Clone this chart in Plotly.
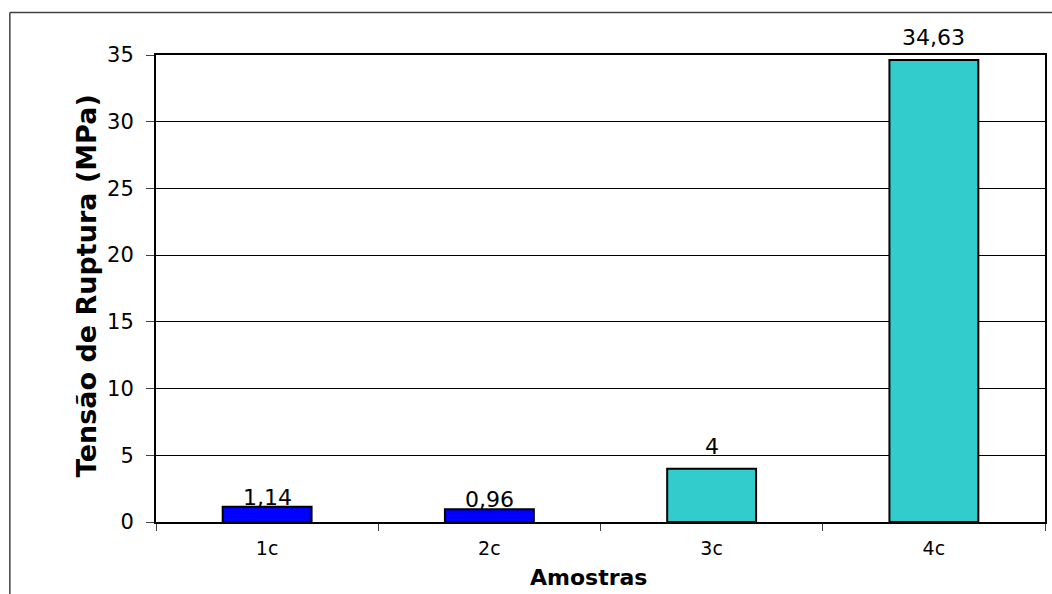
import plotly.graph_objects as go

categories = ["1c", "2c", "3c", "4c"]
values = [1.14, 0.96, 4, 34.63]
colors = ["#0000FF", "#0000FF", "#33CCCC", "#33CCCC"]
label_shift = [-5, -5, 8, 8]
y_ticks = [0, 5, 10, 15, 20, 25, 30, 35]

W, H = 1052, 594
L, R, T, B = 156, 1047, 55, 522
pw, ph = R - L, B - T

def px_x(p):
    return (p - L) / pw

def px_y(p):
    return (B - p) / ph

FONT = "DejaVu Sans, Verdana, sans-serif"

fig = go.Figure()
fig.add_trace(go.Bar(
    x=categories, y=values, width=0.4,
    marker=dict(color=colors, line=dict(color="black", width=2)),
    showlegend=False, hoverinfo="skip",
))

for c, v, s in zip(categories, values, label_shift):
    fig.add_annotation(
        x=c, y=v, xref="x", yref="y", text=f"{v:g}".replace(".", ","),
        showarrow=False, yanchor="bottom", yshift=s,
        font=dict(family=FONT, size=22, color="black"),
    )

fig.add_annotation(
    x=px_x(589), y=px_y(577), xref="paper", yref="paper", text="<b>Amostras</b>",
    showarrow=False, xanchor="center", yanchor="middle",
    font=dict(family=FONT, size=22, color="black"),
)
fig.add_annotation(
    x=px_x(86), y=px_y(286), xref="paper", yref="paper", text="<b>Tensão de Ruptura (MPa)</b>",
    showarrow=False, xanchor="center", yanchor="middle", textangle=-90,
    font=dict(family=FONT, size=27, color="black"),
)

# outer frame (extends beyond the picture on right and bottom)
fig.add_shape(type="line", xref="paper", yref="paper",
              x0=px_x(9.5), y0=px_y(12.5), x1=px_x(1060), y1=px_y(12.5),
              line=dict(color="#404040", width=1.5))
fig.add_shape(type="line", xref="paper", yref="paper",
              x0=px_x(9.5), y0=px_y(12.5), x1=px_x(9.5), y1=px_y(610),
              line=dict(color="#404040", width=1.5))

fig.update_layout(
    width=W, height=H,
    margin=dict(l=L, r=W - R, t=T, b=H - B, pad=0),
    paper_bgcolor="white", plot_bgcolor="white",
    bargap=0.6,
    font=dict(family=FONT, color="black"),
    xaxis=dict(
        type="category", categoryorder="array", categoryarray=categories,
        tickson="boundaries", ticks="outside", ticklen=7, tickcolor="#404040", tickwidth=1,
        showline=True, linecolor="black", linewidth=2, mirror=True,
        showgrid=False, tickfont=dict(family=FONT, size=19, color="black"),
        ticklabelstandoff=8,
        range=[-0.5, 3.5],
    ),
    yaxis=dict(
        range=[0, 35], tickvals=y_ticks, ticktext=[str(t) for t in y_ticks],
        ticks="outside", ticklen=8, tickcolor="#404040", tickwidth=1,
        showline=True, linecolor="black", linewidth=2, mirror=True,
        showgrid=True, gridcolor="black", gridwidth=1, zeroline=False,
        tickfont=dict(family=FONT, size=21, color="black"),
        ticklabelstandoff=8,
    ),
)

fig.write_html(
    "out.html",
    config={"displayModeBar": False},
    post_script="document.body.style.margin='0';document.body.style.overflow='hidden';",
)
